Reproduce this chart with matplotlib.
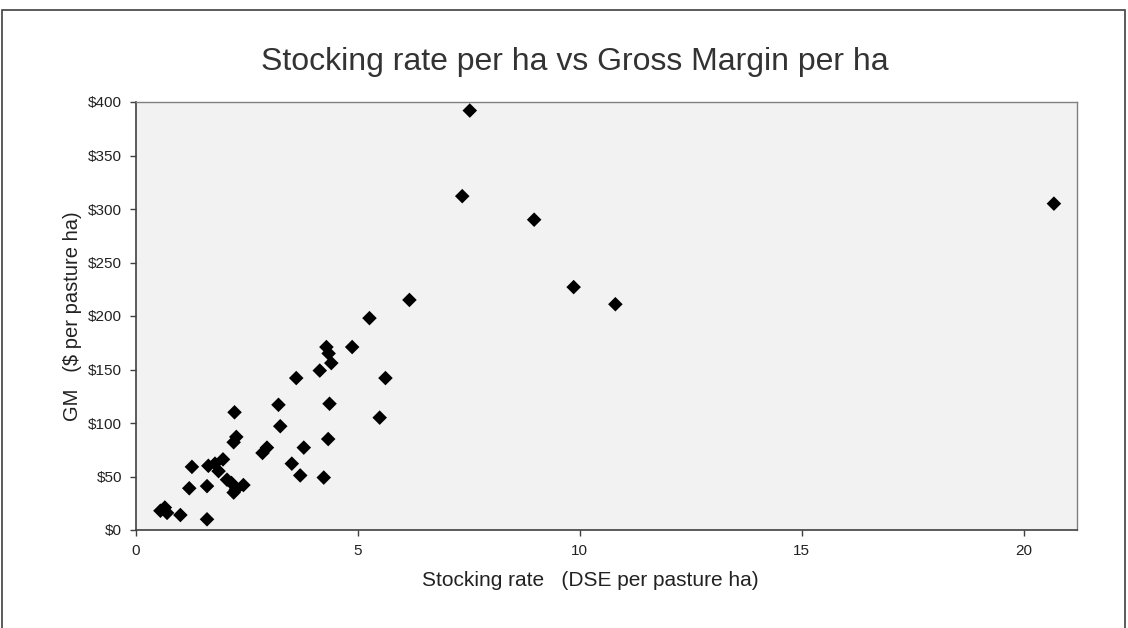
import matplotlib
matplotlib.use("Agg")
import matplotlib.pyplot as plt
from matplotlib.patches import Rectangle
from matplotlib.ticker import FuncFormatter

plt.rcParams['font.family'] = ['Liberation Sans', 'DejaVu Sans']

# Stocking rate (DSE per pasture ha)
stocking_rate = [0.55, 0.65, 0.70, 1.00, 1.60, 1.20, 1.60, 1.26, 1.63, 1.78,
                 1.96, 1.86, 2.05, 2.15, 2.20, 2.25, 2.42, 2.22, 2.20, 2.26,
                 2.85, 2.95, 3.25, 3.21, 3.51, 3.70, 3.78, 3.61, 4.23, 4.33,
                 4.36, 4.14, 4.29, 4.34, 4.40, 4.87, 5.26, 5.49, 5.62, 6.16,
                 7.35, 7.52, 8.97, 9.86, 10.80, 20.68]
# Gross margin ($ per pasture ha)
gross_margin = [18, 21, 16, 14, 10, 39, 41, 59, 60, 62,
                66, 55, 47, 44, 35, 38, 42, 110, 82, 87,
                72, 77, 97, 117, 62, 51, 77, 142, 49, 85,
                118, 149, 171, 165, 156, 171, 198, 105, 142, 215,
                312, 392, 290, 227, 211, 305]

title = "Stocking rate per ha vs Gross Margin per ha"
x_label = "Stocking rate   (DSE per pasture ha)"
y_label = "GM   ($ per pasture ha)"
x_ticks = [0, 5, 10, 15, 20]
y_ticks = [0, 50, 100, 150, 200, 250, 300, 350, 400]

fig = plt.figure(figsize=(11.28, 6.28), dpi=100)
fig.patch.set_facecolor('white')

# outer chart border (bottom edge lies below the picture)
fig.add_artist(Rectangle((2/1128, -0.05), 1 - 5/1128, 1.05 - 10/628,
                         transform=fig.transFigure, fill=False,
                         edgecolor='#404040', linewidth=1.2))

ax = fig.add_axes([136/1128, 1 - 530/628, (1077-136)/1128, (530-102)/628])
ax.set_facecolor('#f2f2f2')

ax.scatter(stocking_rate, gross_margin, marker='D', s=55, color='black',
           edgecolors='none', zorder=3, clip_on=False)

ax.set_xlim(0, 21.2)
ax.set_ylim(0, 400)
ax.set_xticks(x_ticks)
ax.set_yticks(y_ticks)
ax.yaxis.set_major_formatter(FuncFormatter(lambda v, p: f"${int(v)}"))

for side in ['left', 'bottom']:
    ax.spines[side].set_color('#404040')
    ax.spines[side].set_linewidth(1.2)
for side in ['top', 'right']:
    ax.spines[side].set_color('#808080')
    ax.spines[side].set_linewidth(1.0)

ax.tick_params(axis='both', direction='out', length=4, width=1,
               color='#404040', labelsize=11, labelcolor='#222222')
ax.tick_params(axis='y', pad=6)
ax.tick_params(axis='x', pad=6)

fig.text(590/1128, 1 - 580/628, x_label, ha='center', va='center',
         fontsize=15, color='#222222')
fig.text(72/1128, 1 - 316/628, y_label, ha='center', va='center',
         rotation=90, fontsize=14.5, color='#222222')

fig.text(575/1128, 1 - 62/628, title, ha='center', va='center',
         fontsize=23, color='#333333')

fig.savefig('out.png', dpi=100, facecolor='white')
